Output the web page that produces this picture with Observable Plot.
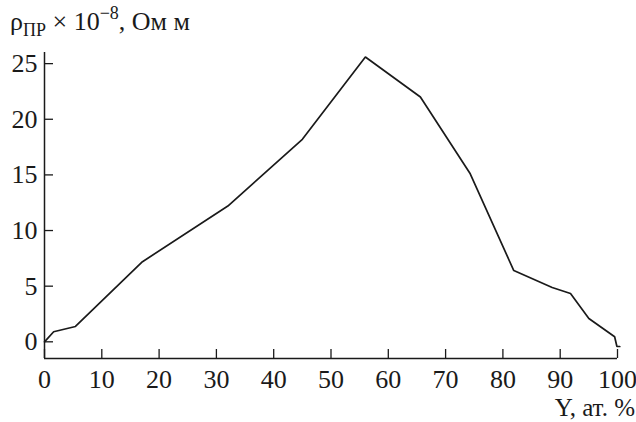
<!DOCTYPE html>
<html>
<head>
<meta charset="utf-8">
<script src="https://cdn.jsdelivr.net/npm/d3@7"></script>
<script src="https://cdn.jsdelivr.net/npm/@observablehq/plot@0.6"></script>
<style>
  body { margin: 0; background: #fff; }
  #wrap { position: relative; width: 636px; height: 422px; font-family: "Liberation Serif", "DejaVu Serif", serif; color: #1a1a1a; }
  #ytitle { position: absolute; left: 10px; top: 9px; font-size: 26px; white-space: nowrap; line-height: 1; }
  #ytitle sub { font-size: 18px; vertical-align: -6px; line-height: 0; }
  #ytitle sup { font-size: 18px; vertical-align: 11px; line-height: 0; }
  #xtitle { position: absolute; right: 1px; top: 395px; font-size: 25px; white-space: nowrap; line-height: 1; }
  #chart svg { overflow: visible; }
</style>
</head>
<body>
<div id="wrap">
  <div id="chart"></div>
  <div id="ytitle">ρ<sub>ПР</sub> × 10<sup>−8</sup>, Ом м</div>
  <div id="xtitle">Y, ат. %</div>
</div>
<script>
// Data
const composition = [0, 1.6, 5.4, 17.1, 32.0, 45.0, 56.0, 65.6, 74.3, 81.9, 88.6, 91.8, 95.0, 99.5, 99.9, 100.4];
const resistivity = [0, 0.9, 1.38, 7.2, 12.2, 18.2, 25.6, 22.0, 15.1, 6.4, 4.88, 4.34, 2.1, 0.45, -0.42, -0.42];
const xTicks = [0, 10, 20, 30, 40, 50, 60, 70, 80, 90, 100];
const yTicks = [0, 5, 10, 15, 20, 25];
const xDomain = [0, 100];
const yDomain = [-1.5, 26];

const data = composition.map((x, i) => ({x, y: resistivity[i]}));
const ink = "#1a1a1a";

const chart = Plot.plot({
  width: 636,
  height: 422,
  marginLeft: 44,
  marginRight: 19,
  marginTop: 52,
  marginBottom: 64,
  style: {fontFamily: "Liberation Serif, DejaVu Serif, serif", fontSize: "26px", color: ink, background: "#fff"},
  x: {domain: xDomain, label: null},
  y: {domain: yDomain, label: null},
  marks: [
    // inward ticks
    Plot.axisX(xTicks, {tickSize: 9, dy: -9, text: null, label: null, stroke: ink, strokeWidth: 1.3}),
    Plot.axisY(yTicks, {tickSize: 9, dx: 9, text: null, label: null, stroke: ink, strokeWidth: 1.3}),
    // tick labels
    Plot.axisX(xTicks, {tickSize: 0, tickPadding: 11, label: null, fill: ink, fontSize: 26}),
    Plot.axisY(yTicks, {tickSize: 0, tickPadding: 7, label: null, fill: ink, fontSize: 26}),
    // axis lines
    Plot.ruleX([xDomain[0]], {stroke: ink, strokeWidth: 1.5}),
    Plot.ruleY([yDomain[0]], {stroke: ink, strokeWidth: 1.5}),
    // curve
    Plot.line(data, {x: "x", y: "y", stroke: ink, strokeWidth: 1.7, strokeLinejoin: "miter"})
  ]
});
document.getElementById("chart").appendChild(chart);
</script>
</body>
</html>
